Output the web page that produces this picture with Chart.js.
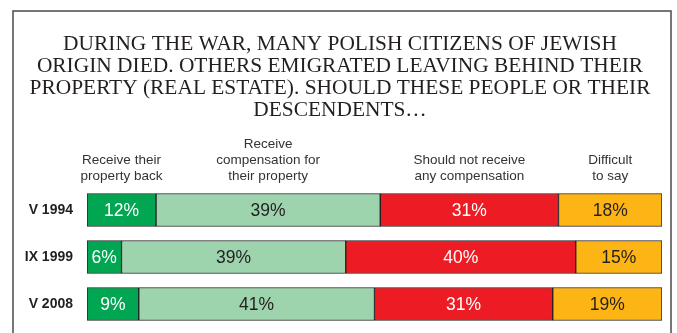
<!DOCTYPE html>
<html>
<head>
<meta charset="utf-8">
<script src="https://cdn.jsdelivr.net/npm/chart.js@4/dist/chart.umd.min.js"></script>
<style>
  html, body { margin: 0; padding: 0; background: #fff; }
  #wrap { position: relative; width: 677px; height: 333px; }
</style>
</head>
<body>
<div id="wrap"><canvas id="surveyChart" width="677" height="333"></canvas></div>
<script>
// survey waves (rows)
const waves = ['V 1994', 'IX 1999', 'V 2008'];

// answers (stacked segments), percent
const propertyBack = [12, 6, 9];
const compensation = [39, 39, 41];
const noCompensation = [31, 40, 31];
const difficult = [18, 15, 19];

const answerLabels = [
  ['Receive their', 'property back'],
  ['Receive', 'compensation for', 'their property'],
  ['Should not receive', 'any compensation'],
  ['Difficult', 'to say']
];

const titleLines = [
  'DURING THE WAR, MANY POLISH CITIZENS OF JEWISH',
  'ORIGIN DIED. OTHERS EMIGRATED LEAVING BEHIND THEIR',
  'PROPERTY (REAL ESTATE). SHOULD THESE PEOPLE OR THEIR',
  'DESCENDENTS\u2026'
];

const sans = '"Liberation Sans", Arial, sans-serif';

// frame around the whole figure
const framePlugin = {
  id: 'frame',
  beforeDraw(chart) {
    const ctx = chart.ctx;
    ctx.save();
    ctx.strokeStyle = '#4a4a4a';
    ctx.lineWidth = 1.5;
    ctx.strokeRect(13, 11, 658, 400);
    ctx.restore();
  }
};

// percent labels inside bars + answer headers over the first row
const labelsPlugin = {
  id: 'barLabels',
  afterDatasetsDraw(chart) {
    const ctx = chart.ctx;
    ctx.save();
    ctx.textAlign = 'center';
    ctx.textBaseline = 'middle';
    chart.data.datasets.forEach((ds, i) => {
      const meta = chart.getDatasetMeta(i);
      meta.data.forEach((bar, j) => {
        const p = bar.getCenterPoint();
        ctx.fillStyle = ds.labelColor;
        ctx.font = '17.5px ' + sans;
        ctx.fillText(ds.data[j] + '%', p.x, p.y + 1);
      });
      // header over the column, centred on the first row's segment
      const head = answerLabels[i];
      const cx = meta.data[0].getCenterPoint().x;
      const lastY = chart.chartArea.top - 10.5;
      ctx.fillStyle = '#333333';
      ctx.font = '13.5px ' + sans;
      head.forEach((line, k) => {
        ctx.fillText(line, cx, lastY - (head.length - 1 - k) * 16);
      });
    });
    ctx.restore();
  }
};

new Chart(document.getElementById('surveyChart'), {
  type: 'bar',
  data: {
    labels: waves,
    datasets: [
      { label: 'Receive their property back', data: propertyBack, backgroundColor: '#00a651', labelColor: '#ffffff' },
      { label: 'Receive compensation for their property', data: compensation, backgroundColor: '#9dd3ad', labelColor: '#231f20' },
      { label: 'Should not receive any compensation', data: noCompensation, backgroundColor: '#ed1c24', labelColor: '#ffffff' },
      { label: 'Difficult to say', data: difficult, backgroundColor: '#fdb515', labelColor: '#231f20' }
    ]
  },
  options: {
    indexAxis: 'y',
    responsive: false,
    animation: false,
    events: [],
    layout: { padding: { top: 0, right: 15, bottom: 5.5, left: 18 } },
    datasets: {
      bar: {
        borderColor: '#231f20',
        borderWidth: 1,
        borderSkipped: false,
        barThickness: 33
      }
    },
    scales: {
      x: {
        stacked: true,
        min: 0,
        max: 100,
        display: false
      },
      y: {
        stacked: true,
        grid: { display: false, drawTicks: false },
        border: { display: false },
        ticks: {
          color: '#231f20',
          padding: 14,
          font: { family: sans, size: 14, weight: 'bold' }
        },
        afterFit(scale) {
          scale.width = 69;
          // keep the tick padding from eating into the band height
          scale.paddingTop = 0;
          scale.paddingBottom = 0;
        }
      }
    },
    plugins: {
      legend: { display: false },
      tooltip: { enabled: false },
      title: {
        display: true,
        text: titleLines,
        color: '#231f20',
        padding: { top: 33, bottom: 65.5 },
        font: { family: '"Liberation Serif", "Times New Roman", serif', size: 21.4, weight: 'normal', lineHeight: 1.028 }
      }
    }
  },
  plugins: [framePlugin, labelsPlugin]
});
</script>
</body>
</html>
